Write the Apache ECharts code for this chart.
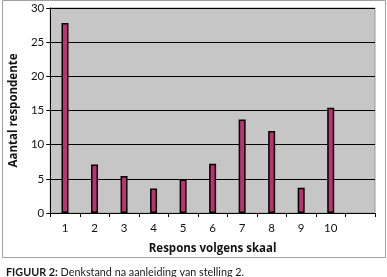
<!DOCTYPE html>
<html>
<head>
<meta charset="utf-8">
<script src="https://cdn.jsdelivr.net/npm/echarts@6/dist/echarts.min.js"></script>
<style>
  html, body { margin: 0; padding: 0; background: #fff; }
  #chart { width: 387px; height: 277px; }
</style>
</head>
<body>
<div id="chart"></div>
<script>
// respons-kategorieë (laaste gleuf is leeg)
const categories = ["1", "2", "3", "4", "5", "6", "7", "8", "9", "10", ""];
const respondente = [27.8, 7.1, 5.4, 3.6, 4.9, 7.2, 13.7, 12.0, 3.7, 15.4, null];
const yTicks = [0, 5, 10, 15, 20, 25, 30];

const myChart = echarts.init(document.getElementById("chart"));

const font = "'Open Sans', 'DejaVu Sans', sans-serif";
const font2 = "Lato, 'Open Sans', sans-serif";

const option = {
  backgroundColor: "#fff",
  animation: false,
  textStyle: { fontFamily: font },
  title: {
    text: "{b|FIGUUR 2:} Denkstand na aanleiding van stelling 2.",
    left: 1,
    top: 262,
    textStyle: {
      fontSize: 10.8,
      fontWeight: "normal",
      color: "#1a1a1a",
      fontFamily: font2,
      rich: { b: { fontSize: 10.8, fontWeight: "bold", color: "#1a1a1a", fontFamily: font2 } },
    },
  },
  graphic: [
    {
      type: "rect",
      shape: { x: 2.5, y: 0.5, width: 383, height: 257 },
      style: { fill: "none", stroke: "#a0a0a0", lineWidth: 1 },
      silent: true,
    },
  ],
  grid: {
    left: 49,
    right: 12,
    top: 8,
    bottom: 64,
    show: true,
    backgroundColor: "#c6c6c6",
    borderColor: "#9a9a9a",
    borderWidth: 1,
  },
  xAxis: {
    type: "category",
    data: categories,
    boundaryGap: true,
    name: "Respons volgens skaal",
    nameLocation: "middle",
    nameGap: 30,
    nameTextStyle: { fontSize: 11.5, fontWeight: "bold", color: "#111", fontFamily: font },
    axisLine: { lineStyle: { color: "#000", width: 1 } },
    axisTick: { show: true, interval: 0, length: 4, lineStyle: { color: "#000" } },
    axisLabel: { interval: 0, fontSize: 11.5, color: "#111", margin: 9, fontFamily: font2 },
  },
  yAxis: {
    type: "value",
    min: yTicks[0],
    max: yTicks[yTicks.length - 1],
    interval: 5,
    name: "Aantal respondente",
    nameLocation: "middle",
    nameGap: 28,
    nameTextStyle: { fontSize: 11.5, fontWeight: "bold", color: "#111", fontFamily: font },
    axisLine: { show: true, lineStyle: { color: "#000", width: 1 } },
    axisTick: { show: true, length: 4, lineStyle: { color: "#000" } },
    axisLabel: { fontSize: 11.5, color: "#111", margin: 6, fontFamily: font2 },
    splitLine: { show: true, lineStyle: { color: "#000", width: 1 } },
  },
  series: [
    {
      name: "Respondente",
      type: "bar",
      data: respondente,
      barWidth: 7,
      itemStyle: { color: "#bb3370", borderColor: "#000", borderWidth: 1.5 },
    },
  ],
};

myChart.setOption(option);
</script>
</body>
</html>
